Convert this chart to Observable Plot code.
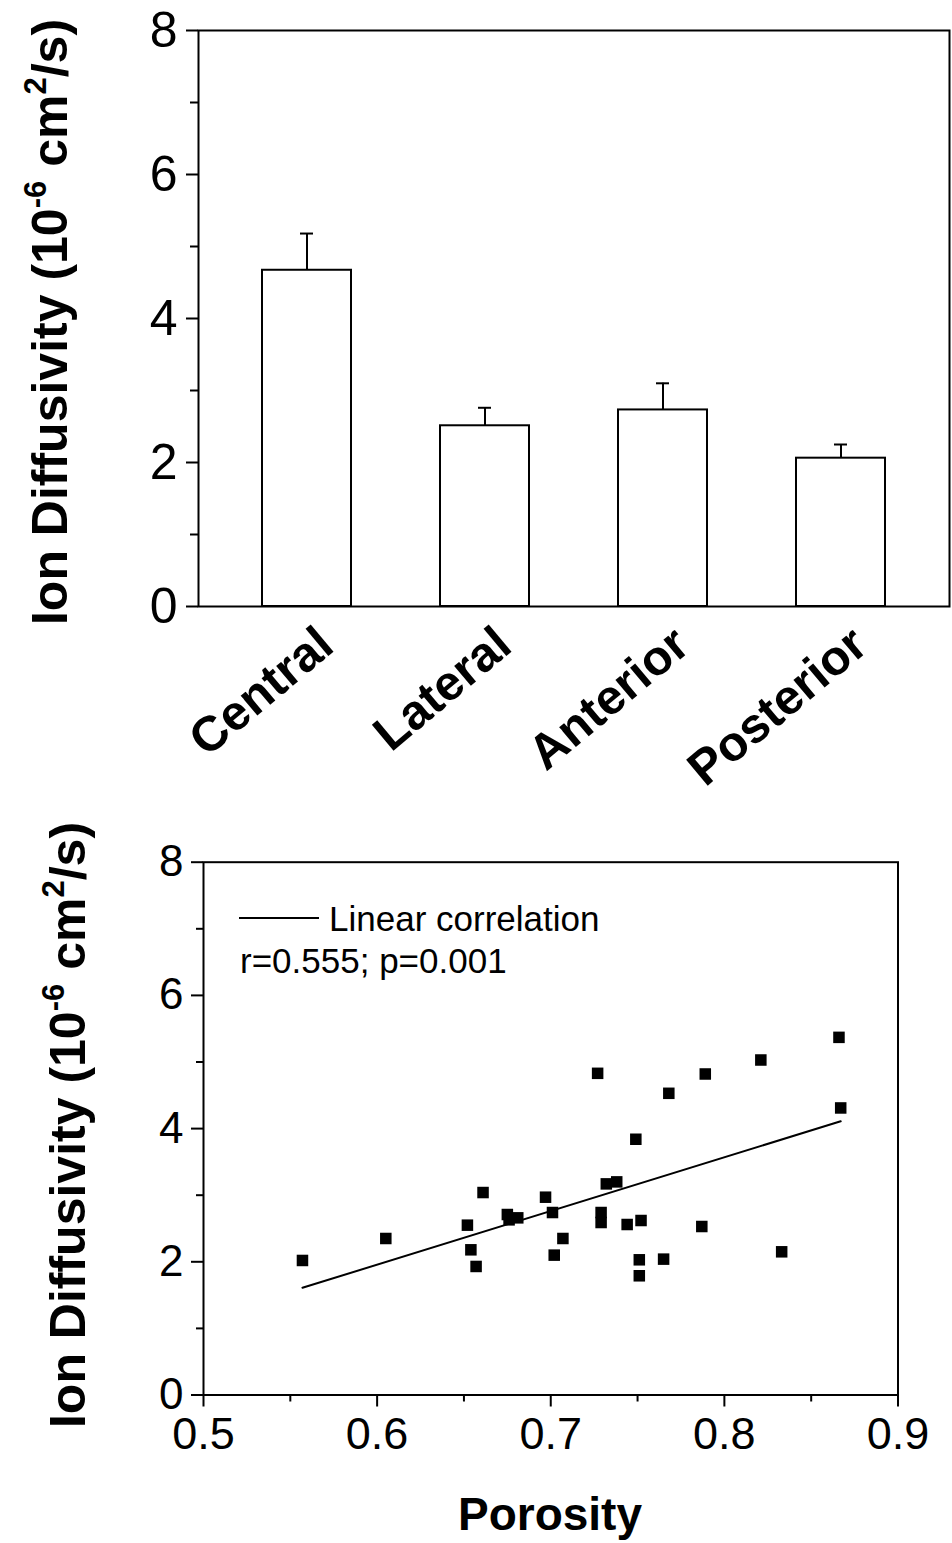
<!DOCTYPE html>
<html><head><meta charset="utf-8">
<script src="https://cdn.jsdelivr.net/npm/d3@7"></script>
<script src="https://cdn.jsdelivr.net/npm/@observablehq/plot@0.6"></script>
<style>
body{margin:0;background:#fff;}
#wrap{position:relative;width:952px;height:1543px;font-family:"Liberation Sans",Arial,sans-serif;background:#fff;}
#topChart,#bottomChart{position:absolute;left:0;}
#topChart{top:0}
#bottomChart{top:820px}
</style></head><body><div id="wrap"><div id="topChart"></div><div id="bottomChart"></div></div>
<script>
// ---- data ----
const regions = ["Central", "Lateral", "Anterior", "Posterior"];
const diffusivityMean = [4.67, 2.51, 2.73, 2.06];
const diffusivityError = [0.51, 0.25, 0.37, 0.19];

const porosity = [0.557, 0.605, 0.652, 0.654, 0.657, 0.661, 0.675, 0.676, 0.681, 0.697, 0.701, 0.702, 0.707, 0.727, 0.729, 0.729, 0.732, 0.738, 0.744, 0.749, 0.751, 0.751, 0.752, 0.765, 0.768, 0.787, 0.789, 0.821, 0.833, 0.866, 0.867];
const diffusivity = [2.02, 2.35, 2.55, 2.18, 1.93, 3.04, 2.71, 2.63, 2.66, 2.97, 2.74, 2.10, 2.35, 4.83, 2.74, 2.59, 3.17, 3.20, 2.56, 3.84, 2.03, 1.79, 2.62, 2.04, 4.53, 2.53, 4.82, 5.03, 2.15, 5.37, 4.31];

const fitPorosity = [0.557, 0.867];
const fitDiffusivity = [1.61, 4.11];

const yMajorTicks = [0, 2, 4, 6, 8];
const yMinorTicks = [1, 3, 5, 7];
const xMajorTicks = [0.5, 0.6, 0.7, 0.8, 0.9];
const xMinorTicks = [0.55, 0.65, 0.75, 0.85];

const legendLabel = "Linear correlation";
const statsLabel = "r=0.555; p=0.001";
const xTitle = "Porosity";

const FONT = '"Liberation Sans", Arial, sans-serif';

// ---- top chart: bars ----
const barData = regions.map((r, i) => ({region: r, mean: diffusivityMean[i], upper: diffusivityMean[i] + diffusivityError[i]}));

const topPlot = Plot.plot({
  width: 952, height: 820,
  marginLeft: 198, marginRight: 3, marginTop: 30, marginBottom: 214,
  style: {fontFamily: FONT, color: "black", background: "white", overflow: "visible"},
  x: {domain: regions, paddingInner: 0.5, paddingOuter: 0.353, axis: null, label: null},
  y: {domain: [0, 8], label: null},
  marks: [
    Plot.ruleX(barData, {x: "region", y1: "mean", y2: "upper", stroke: "black", strokeWidth: 2}),
    Plot.tickY(barData, {x: "region", y: "upper", insetLeft: 38, insetRight: 38, stroke: "black", strokeWidth: 2}),
    Plot.barY(barData, {x: "region", y: "mean", fill: "white", stroke: "black", strokeWidth: 2}),
    Plot.axisY(yMajorTicks, {tickSize: 12, tickPadding: 9, fontSize: 50, strokeWidth: 2, label: null, tickFormat: d => String(d)}),
    Plot.axisY(yMinorTicks, {tickSize: 8, strokeWidth: 2, label: null, tickFormat: () => ""}),
    Plot.text(barData, {x: "region", frameAnchor: "bottom", text: "region", rotate: -40, textAnchor: "end", lineAnchor: "middle", dx: 19, dy: 31, fontSize: 49, fontWeight: "bold", fill: "black"}),
    Plot.frame({stroke: "black", strokeWidth: 2})
  ]
});
document.getElementById("topChart").appendChild(topPlot);

// ---- bottom chart: scatter ----
const pts = porosity.map((p, i) => ({porosity: p, diffusivity: diffusivity[i]}));
const fit = fitPorosity.map((p, i) => ({porosity: p, diffusivity: fitDiffusivity[i]}));

const bottomPlot = Plot.plot({
  width: 952, height: 723,
  marginLeft: 203, marginRight: 54.5, marginTop: 41.7, marginBottom: 148.5,
  style: {fontFamily: FONT, color: "black", background: "white", overflow: "visible"},
  x: {domain: [0.5, 0.9], label: null},
  y: {domain: [0, 8], label: null},
  marks: [
    Plot.line(fit, {x: "porosity", y: "diffusivity", stroke: "black", strokeWidth: 2}),
    Plot.dot(pts, {x: "porosity", y: "diffusivity", symbol: "square", r: 6.5, fill: "black", stroke: "none"}),
    Plot.axisX(xMajorTicks, {tickSize: 12, tickPadding: 10, fontSize: 45, strokeWidth: 2, label: null, tickFormat: d => d.toFixed(1)}),
    Plot.axisX(xMinorTicks, {tickSize: 7, strokeWidth: 2, label: null, tickFormat: () => ""}),
    Plot.axisY(yMajorTicks, {tickSize: 12, tickPadding: 8, fontSize: 44, strokeWidth: 2, label: null, tickFormat: d => String(d)}),
    Plot.axisY(yMinorTicks, {tickSize: 7, strokeWidth: 2, label: null, tickFormat: () => ""}),
    Plot.frame({stroke: "black", strokeWidth: 2})
  ]
});
document.getElementById("bottomChart").appendChild(bottomPlot);

// ---- titles and legend ----
function addYTitle(svg, x, y) {
  const t = d3.select(svg).append("text")
    .attr("transform", `translate(${x},${y}) rotate(-90)`)
    .attr("text-anchor", "middle")
    .attr("font-family", FONT)
    .attr("font-size", 50)
    .attr("font-weight", "bold")
    .attr("fill", "black");
  t.append("tspan").text("Ion Diffusivity (10");
  t.append("tspan").attr("font-size", 31).attr("dy", -21).text("-6");
  t.append("tspan").attr("dy", 21).text(" cm");
  t.append("tspan").attr("font-size", 31).attr("dy", -21).text("2");
  t.append("tspan").attr("dy", 21).text("/s)");
}
addYTitle(topPlot, 67, 322);
addYTitle(bottomPlot, 85, 305);

const bsvg = d3.select(bottomPlot);
bsvg.append("line").attr("x1", 239).attr("x2", 319).attr("y1", 98).attr("y2", 98)
  .attr("stroke", "black").attr("stroke-width", 2);
bsvg.append("text").attr("x", 329).attr("y", 111).attr("text-anchor", "start").attr("font-family", FONT).attr("font-size", 35)
  .attr("fill", "black").text(legendLabel);
bsvg.append("text").attr("x", 240).attr("y", 153).attr("text-anchor", "start").attr("font-family", FONT).attr("font-size", 35)
  .attr("fill", "black").text(statsLabel);
bsvg.append("text").attr("x", 550).attr("y", 710).attr("text-anchor", "middle").attr("font-family", FONT)
  .attr("font-size", 46).attr("font-weight", "bold").attr("fill", "black").text(xTitle);
</script></body></html>
